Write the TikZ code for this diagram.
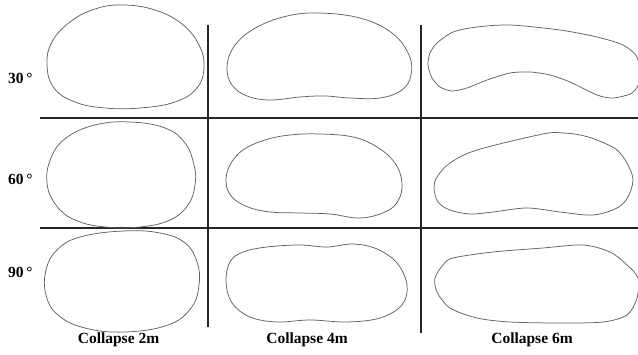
\documentclass[tikz,border=0pt]{standalone}
\usepackage{fontspec}
\setmainfont{Liberation Serif}
\begin{document}
\begin{tikzpicture}[x=1pt,y=-1pt,
  outline/.style={draw=black!62,line width=0.75pt,line join=round},
  grid/.style={draw=black!85,line width=1.1pt},
  lab/.style={font=\fontsize{15.5}{17}\selectfont\bfseries,inner sep=0pt,anchor=base}]
\useasboundingbox (0,0) rectangle (638,355);
\begin{scope}
\clip (0,0) rectangle (638,355);
% grid lines
\draw[grid] (40,118) -- (638,118);
\draw[grid] (40,228) -- (638,228);
\draw[grid] (208,25) -- (208,327);
\draw[grid] (421,25) -- (421,333);
% row 1
\draw[outline] plot[smooth cycle,tension=0.7] coordinates {(123,5) (155,10) (182,24) (199,45) (204,67) (197,88) (175,102) (140,108) (105,108) (75,102) (54,88) (47,65) (52,42) (70,22) (95,9)};
\draw[outline] plot[smooth cycle,tension=0.65] coordinates {(317,13) (360,18) (392,33) (409,55) (411,75) (402,90) (380,98) (350,98) (325,96) (300,97) (270,100) (247,96) (232,85) (227,68) (233,48) (252,30) (283,17)};
\draw[outline] plot[smooth cycle,tension=0.45] coordinates {(437,43) (453,32) (477,27) (510,25) (560,30) (597,37) (623,45) (637,57) (640,80) (632,93) (613,98) (597,95) (570,82) (550,75) (530,72) (510,73) (487,80) (467,88) (452,91) (440,87) (432,78) (428,65) (430,53)};
% row 2
\draw[outline] plot[smooth cycle,tension=0.7] coordinates {(130,122) (165,128) (185,143) (194,165) (195,185) (188,205) (170,220) (140,227) (105,227) (75,220) (56,205) (47,183) (51,158) (66,138) (95,125)};
\draw[outline] plot[smooth cycle,tension=0.65] coordinates {(320,134) (353,137) (377,147) (395,163) (402,183) (398,201) (385,212) (360,218) (330,214) (300,213) (270,212) (248,207) (232,197) (226,182) (230,165) (243,150) (265,140) (290,135)};
\draw[outline] plot[smooth cycle,tension=0.55] coordinates {(563,133) (580,135) (597,140) (617,150) (628,165) (633,180) (628,197) (617,208) (593,215) (560,212) (527,208) (493,212) (470,214) (450,210) (438,202) (434,188) (437,177) (450,163) (477,150) (543,134)};
% row 3
\draw[outline] plot[smooth cycle,tension=0.7] coordinates {(123,231) (160,233) (185,243) (197,262) (199,285) (191,308) (168,325) (125,332) (85,328) (58,315) (46,295) (46,270) (57,250) (80,237)};
\draw[outline] plot[smooth cycle,tension=0.6] coordinates {(243,252) (267,247) (300,245) (327,247) (353,244) (377,249) (397,263) (407,285) (402,305) (380,318) (347,322) (310,320) (277,322) (250,317) (232,303) (226,282) (230,262)};
\draw[outline] plot[smooth cycle,tension=0.5] coordinates {(443,265) (453,258) (493,252) (543,248) (583,245) (610,252) (627,265) (638,278) (637,298) (627,315) (603,322) (560,323) (510,322) (477,318) (450,308) (437,292) (435,278)};
\end{scope}
% labels
\node[lab,anchor=base west] (r30) at (8,84) {30\,°};
\node[lab,anchor=base west] (r60) at (8,185) {60\,°};
\node[lab,anchor=base west] (r90) at (8,278) {90\,°};
\node[lab] (c2) at (118.5,344) {Collapse 2m};
\node[lab] (c4) at (307,344) {Collapse 4m};
\node[lab] (c6) at (532,344) {Collapse 6m};
\end{tikzpicture}
\end{document}
